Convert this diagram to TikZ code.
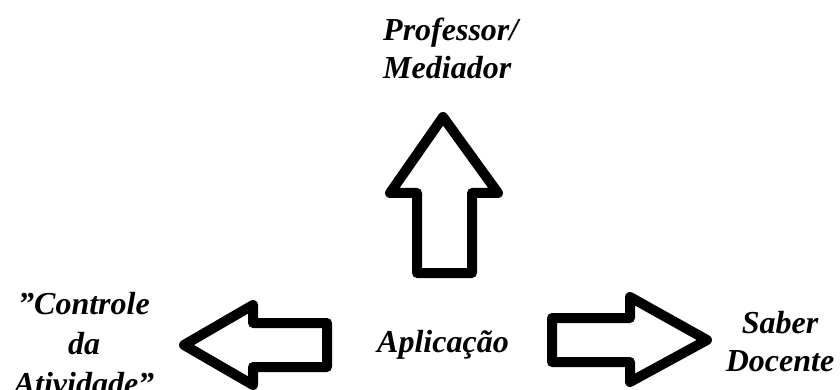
\documentclass[tikz,border=0pt]{standalone}
\usepackage{fontspec}
\setmainfont{Liberation Serif}[Ligatures=ResetAll]
\usepackage{tikz}
\usetikzlibrary{positioning}
\tikzset{txt node/.style={font=\fontsize{32}{38}\selectfont\bfseries\itshape,inner sep=0pt},
seta/.style={draw,line width=10pt,line join=round},
}

\begin{document}
\begin{tikzpicture}[x=1pt,y=-1pt]
		\useasboundingbox (0,0) rectangle (840,390);
		\node[txt node,align=left,anchor=west] (prof) at (383,48) {Professor/\\Mediador};
		\node[txt node] (apl) at (443,345) {Aplicação};
		\node[txt node,align=center] (ctrl) at (84,344) {"Controle\\[2pt]da\\[2pt]Atividade"};
		\node[txt node,align=center] (saber) at (780,342) {Saber\\Docente};
		
		%% setas
		\path[seta] (417,273) -- (417,193) -- (390,193) -- (443,117) -- (498,193) -- (472,193) -- (472,273) -- cycle;
		\path[seta] (327,323) -- (253,323) -- (253,305) -- (184,345) -- (253,385) -- (253,367) -- (327,367) -- cycle;
		\path[seta] (552,318) -- (630,318) -- (630,297) -- (707,340) -- (630,382) -- (630,362) -- (552,362) -- cycle;
	\end{tikzpicture}
\end{document}
